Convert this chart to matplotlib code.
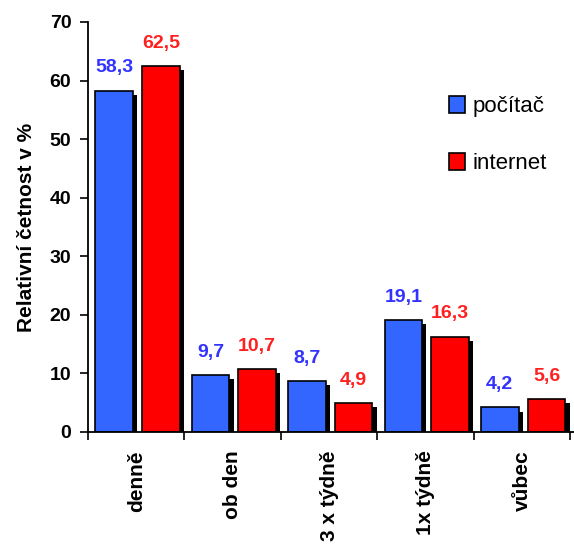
import matplotlib
matplotlib.use("Agg")
import matplotlib.pyplot as plt
from matplotlib.patches import Patch
import numpy as np

categories = ["denně", "ob den", "3 x týdně", "1x týdně", "vůbec"]
pocitac = [58.3, 9.7, 8.7, 19.1, 4.2]
internet = [62.5, 10.7, 4.9, 16.3, 5.6]
series_names = ["počítač", "internet"]
yticks = [0, 10, 20, 30, 40, 50, 60, 70]

BLUE = "#3366ff"
RED = "#ff0000"
BLUE_TXT = "#3333ff"
RED_TXT = "#ff2020"

plt.rcParams["font.family"] = ["Liberation Sans", "DejaVu Sans"]

fig = plt.figure(figsize=(5.74, 5.44), dpi=100)
ax = fig.add_axes([88 / 574, 1 - 432 / 544, 1 - 88 / 574, 410 / 544])

x = np.arange(len(categories))
w = 0.39
offs = [0.27, 0.755]
sx, sy = 0.045, 0.7  # drop shadow offset (data units)

for vals, off, col, tcol in [(pocitac, offs[0], BLUE, BLUE_TXT),
                             (internet, offs[1], RED, RED_TXT)]:
    vals = np.array(vals)
    ax.bar(x + off + sx, vals - sy, width=w, color="black", zorder=1)
    ax.bar(x + off, vals, width=w, color=col, edgecolor="black",
           linewidth=1.2, zorder=2)
    for xi, v in zip(x + off, vals):
        ax.annotate(f"{v:.1f}".replace(".", ","), (xi, v),
                    xytext=(0, 13), textcoords="offset points",
                    ha="center", va="baseline", color=tcol,
                    fontsize=14, fontweight="bold")

ax.set_xlim(0, 5.04)
ax.set_ylim(0, 70)
ax.set_yticks(yticks)
ax.set_yticklabels([str(t) for t in yticks], fontsize=14, fontweight="bold")
ax.tick_params(axis="y", direction="out", length=6, width=1.2, pad=6)

ax.set_xticks(np.arange(0, 6))
ax.set_xticklabels([])
ax.set_xticks(x + 0.5, minor=True)
ax.set_xticklabels(categories, minor=True, rotation=90, fontsize=15,
                   fontweight="bold", va="top")
ax.tick_params(axis="x", which="major", direction="out", length=6,
               width=1.2)
ax.tick_params(axis="x", which="minor", length=0, pad=13)

for s in ["top", "right"]:
    ax.spines[s].set_visible(False)
for s in ["left", "bottom"]:
    ax.spines[s].set_linewidth(1.3)

ax.set_ylabel("Relativní četnost v %", fontsize=15, fontweight="bold",
              labelpad=10)

handles = [Patch(facecolor=BLUE, edgecolor="black", linewidth=1.2),
           Patch(facecolor=RED, edgecolor="black", linewidth=1.2)]
fig.legend(handles, series_names, loc="upper left",
           bbox_to_anchor=(449 / 574, 1 - 96 / 544), frameon=False,
           fontsize=16, handlelength=0.7, handleheight=0.8,
           handletextpad=0.35, labelspacing=1.6, borderpad=0,
           borderaxespad=0)

fig.savefig("out.png", dpi=100)
